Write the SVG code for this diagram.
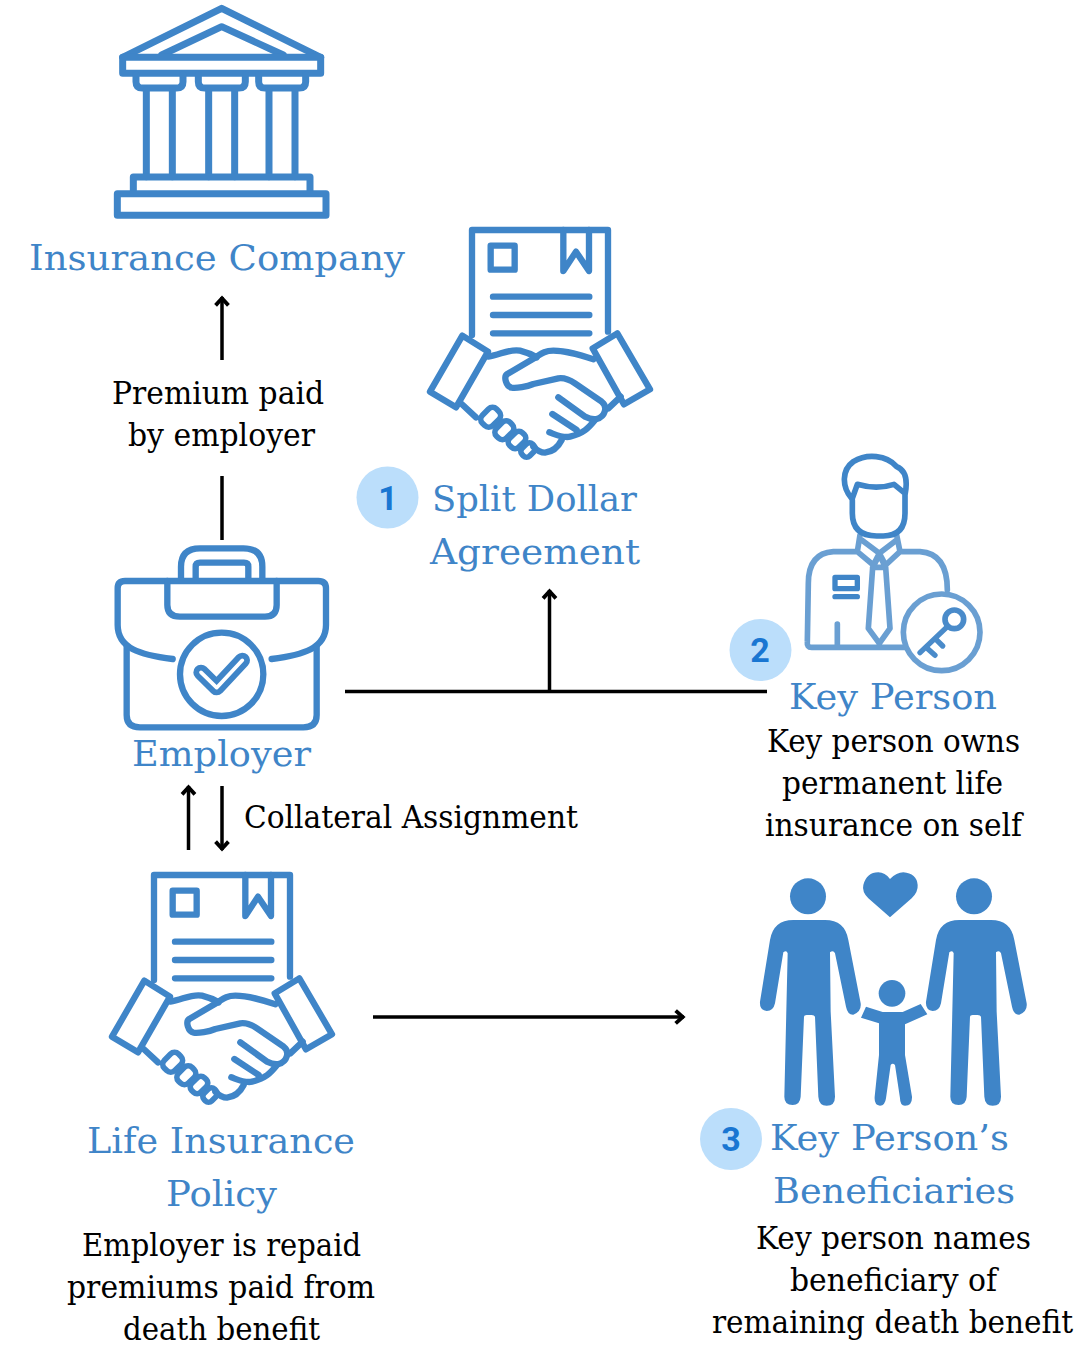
<svg xmlns="http://www.w3.org/2000/svg" width="1080" height="1350" viewBox="0 0 1080 1350">
<style>
text{font-family:"DejaVu Serif","Liberation Serif",serif}
.t{font-size:36px;fill:#3f85c8}
.b{font-size:31px;fill:#000}
.n{font-family:"Roboto","Liberation Sans",sans-serif;font-size:34px;font-weight:700;fill:#1976d2;text-anchor:middle}
.badge{fill:#bbdefb}
.ic{fill:none;stroke:#3f85c8;stroke-width:19;stroke-linecap:round;stroke-linejoin:round}
.bk{stroke-width:21}
.lt{stroke:#6a9fd2}
.f{fill:#3f85c8;stroke:none}
.c{fill:none;stroke:#000;stroke-width:3.5}
</style>
<defs>
<marker id="a" markerUnits="userSpaceOnUse" markerWidth="18" markerHeight="18" refX="12.500" refY="7" orient="auto" viewBox="0 0 14 14"><path d="M6 2 11.500 7 6 12" fill="none" stroke="#000" stroke-width="3"/></marker>
<g id="deal">
<path class="ic" d="M156 345V30H564V335"/>
<path class="ic" d="M212 77H284V149H212Z"/>
<path class="ic" d="M430 30V153L468 95 507 153V30"/>
<path class="ic" d="M219 230H508M219 285H508M219 340H508"/>
<path class="ic" style="fill:#fff" d="M127 347 204 395 108 562 30 515Z"/>
<path class="ic" style="fill:#fff" d="M592 340 518 385 612 553 690 508Z"/>
<path class="ic" d="M205 410C240 405 270 385 300 392 320 397 335 403 350 412"/>
<path class="ic" d="M520 418C480 405 440 392 400 392 375 392 365 400 350 410L262 462C250 470 258 500 275 503 290 505 320 500 340 492L415 475C435 472 450 480 465 490L545 545C565 560 555 590 530 597 515 600 505 595 495 590L415 532"/>
<path class="ic" d="M397 582 470 630M525 600C505 625 490 640 450 650 430 655 410 645 388 637M425 660C415 680 400 695 375 698 360 698 350 690 340 680M125 552 168 592M565 565 602 530"/>
<g class="ic" style="stroke-width:17">
<rect x="182" y="570" width="60" height="44" rx="17" transform="rotate(-45 212 592)"/>
<rect x="224" y="610" width="58" height="42" rx="17" transform="rotate(-45 253 631)"/>
<rect x="264" y="641" width="54" height="38" rx="15" transform="rotate(-45 291 660)"/>
<rect x="302" y="674" width="44" height="32" rx="13" transform="rotate(-45 324 690)"/>
</g>
</g>
<path id="adult" class="f" d="M130 165H225Q285 165 295 225L332 415Q335 440 310 449 293 450 288 425L255 265Q250 255 240 262L242 440 255 695Q255 722 230 722 207 722 205 695L195 455Q193 450 185 450H170Q162 450 162 455L152 695Q150 720 128 720 103 720 103 695L113 265Q110 255 100 262L75 415Q70 438 50 438 28 435 30 410L60 225Q70 165 130 165Z"/>
</defs>
<g id="connectors">
<path class="c" marker-end="url(#a)" d="M222 360V297"/>
<path class="c" d="M222 476V540"/>
<path class="c" d="M345 691.500H767"/>
<path class="c" marker-end="url(#a)" d="M549.500 691V590"/>
<path class="c" marker-end="url(#a)" d="M188.500 850V786"/>
<path class="c" marker-end="url(#a)" d="M222 786V850"/>
<path class="c" marker-end="url(#a)" d="M373 1017H684"/>
</g>
<g id="insurance-company">
<g transform="translate(100 0) scale(.33333)">
<path class="ic bk" d="M68 172 365 25 662 172M185 165 365 80 550 165"/>
<path class="ic bk" d="M68 172H662V220H68Z"/>
<path class="ic bk" d="M108 225V245Q108 264 127 264H230Q249 264 249 245V225M295 225V245Q295 264 314 264H417Q436 264 436 245V225M476 225V245Q476 264 495 264H598Q617 264 617 245V225"/>
<path class="ic bk" d="M139 270V530M217 270V530M326 270V530M404 270V530M507 270V530M585 270V530"/>
<path class="ic bk" d="M100 580V531H630V580"/>
<path class="ic bk" d="M52 581H678V646H52Z"/>
</g>
<text class="t" x="29" y="270" textLength="376" lengthAdjust="spacingAndGlyphs">Insurance Company</text>
</g>
<g id="premium-label">
<text class="b" x="112" y="404" textLength="212" lengthAdjust="spacingAndGlyphs">Premium paid</text>
<text class="b" x="128" y="446" textLength="187" lengthAdjust="spacingAndGlyphs">by employer</text>
</g>
<g id="split-dollar">
<use href="#deal" transform="translate(420 220) scale(.33333)"/>
<circle class="badge" cx="387.500" cy="497.500" r="31"/>
<text class="n" x="388" y="510">1</text>
<text class="t" x="432" y="511" textLength="205" lengthAdjust="spacingAndGlyphs">Split Dollar</text>
<text class="t" x="430" y="564" textLength="210" lengthAdjust="spacingAndGlyphs">Agreement</text>
</g>
<g id="employer">
<g transform="translate(100 535) scale(.33333)">
<path class="ic" d="M243 135V95Q243 40 300 40H430Q487 40 487 95V135M287 135V95Q287 83 300 83H432Q445 83 445 95V135"/>
<path class="ic" d="M218 372C120 360 53 340 53 270V160Q53 138 75 138H655Q678 138 678 160V270C678 340 610 360 515 372"/>
<path class="ic" d="M80 335V540Q80 577 120 577H610Q650 577 650 540V335"/>
<path class="ic" d="M202 138V210Q202 245 240 245H495Q530 245 530 210V138"/>
<circle class="ic" cx="365" cy="418" r="125"/>
<path class="ic" style="stroke-width:46" d="M303 412 350 458 427 376"/>
<path class="ic" style="stroke:#fff;stroke-width:11" d="M303 412 350 458 427 376"/>
</g>
<text class="t" x="132" y="766" textLength="179" lengthAdjust="spacingAndGlyphs">Employer</text>
</g>
<g id="key-person">
<circle class="badge" cx="760.500" cy="650" r="31"/>
<text class="n" x="760" y="662">2</text>
<g transform="translate(720 450) scale(.33333)">
<path class="ic lt" style="stroke-width:17" d="M420 255 412 305H340Q265 310 265 400L262 575Q260 592 275 592H555M530 255 540 305H600Q682 310 682 420M412 305 460 345 478 310 425 270M530 270 478 310 497 345 540 305M478 315 458 352H497ZM458 352 445 535 478 580 510 535 497 352M352 522V590"/>
<path class="ic" style="stroke-width:17" d="M395 145C365 110 365 60 400 35 440 10 500 15 530 50 555 60 565 85 555 135M397 150V190Q397 258 470 258H490Q555 258 555 190V130L522 103Q470 120 412 103L397 145"/>
<path class="ic" style="stroke-width:16" d="M345 382H412V416H345ZM345 440H412"/>
<circle class="ic lt" cx="665" cy="547" r="115" style="stroke-width:17"/>
<circle class="ic" cx="703" cy="508" r="28" style="stroke:#4a8bca;stroke-width:17"/>
<path class="ic" style="stroke:#4a8bca;stroke-width:16" d="M682 530 600 608M645 565 668 588M618 592 645 616"/>
</g>
<text class="t" x="789" y="709" textLength="208" lengthAdjust="spacingAndGlyphs">Key Person</text>
<text class="b" x="767" y="752" textLength="253" lengthAdjust="spacingAndGlyphs">Key person owns</text>
<text class="b" x="782" y="794" textLength="221" lengthAdjust="spacingAndGlyphs">permanent life</text>
<text class="b" x="765" y="836" textLength="257" lengthAdjust="spacingAndGlyphs">insurance on self</text>
</g>
<g id="collateral-label">
<text class="b" x="244" y="828" textLength="334" lengthAdjust="spacingAndGlyphs">Collateral Assignment</text>
</g>
<g id="life-insurance-policy">
<use href="#deal" transform="translate(102 865) scale(.33333)"/>
<text class="t" x="87" y="1153" textLength="268" lengthAdjust="spacingAndGlyphs">Life Insurance</text>
<text class="t" x="166" y="1206" textLength="111" lengthAdjust="spacingAndGlyphs">Policy</text>
<text class="b" x="82" y="1256" textLength="279" lengthAdjust="spacingAndGlyphs">Employer is repaid</text>
<text class="b" x="67" y="1298" textLength="308" lengthAdjust="spacingAndGlyphs">premiums paid from</text>
<text class="b" x="123" y="1340" textLength="197" lengthAdjust="spacingAndGlyphs">death benefit</text>
</g>
<g id="beneficiaries">
<g transform="translate(750 865) scale(.33333)">
<circle class="f" cx="174" cy="94" r="54"/>
<circle class="f" cx="672" cy="94" r="54"/>
<use href="#adult"/>
<use href="#adult" x="498"/>
<circle class="f" cx="426" cy="385" r="40"/>
<path class="f" d="M348 425 398 441H458L512 417 532 448 465 478V570L486 695Q487 722 465 722 450 722 450 700L435 600Q428 592 422 600L408 700Q405 722 390 722 372 722 374 695L387 570V475L333 458Z"/>
<path class="f" d="M420 157 355 100Q335 80 340 60 350 22 385 22 405 22 420 42 440 22 460 22 500 25 503 60 505 80 485 100Z"/>
</g>
<circle class="badge" cx="731" cy="1139" r="31"/>
<text class="n" x="731" y="1151">3</text>
<text class="t" x="770" y="1150" textLength="239" lengthAdjust="spacingAndGlyphs">Key Person’s</text>
<text class="t" x="773" y="1203" textLength="242" lengthAdjust="spacingAndGlyphs">Beneficiaries</text>
<text class="b" x="756" y="1249" textLength="275" lengthAdjust="spacingAndGlyphs">Key person names</text>
<text class="b" x="790" y="1291" textLength="207" lengthAdjust="spacingAndGlyphs">beneficiary of</text>
<text class="b" transform="translate(712 1333) scale(.953 1)" x="0" y="0">remaining death benefit</text>
</g>
</svg>
